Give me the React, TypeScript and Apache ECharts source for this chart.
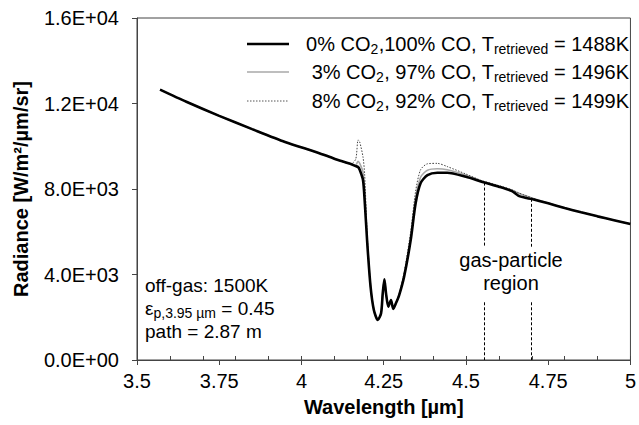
import { useEffect, useRef } from "react";
import * as echarts from "echarts";

// Wavelength grid [µm] shared by the three spectra
const wavelength = [
  3.57, 3.65, 3.75, 3.85, 3.95, 4.05, 4.1, 4.15, 4.165, 4.172, 4.177, 4.187,
  4.192, 4.2, 4.21, 4.22, 4.232, 4.242, 4.247, 4.252, 4.257, 4.264, 4.272,
  4.279, 4.287, 4.297, 4.312, 4.332, 4.347, 4.362, 4.383, 4.413, 4.443, 4.5,
  4.55, 4.6, 4.64, 4.66, 4.68, 4.7, 4.75, 4.8, 4.85, 4.9, 4.95, 5.0,
];

// Radiance [W/m²/µm/sr] for 0% CO2, 100% CO
const radiance0 = [
  12650, 12080, 11420, 10800, 10200, 9700, 9420, 9170, 9070, 9030, 8900, 8420,
  7480, 5460, 3430, 2340, 1870, 2190, 3120, 3780, 3120, 2490, 2810, 2390, 2650,
  3040, 3900, 5610, 7330, 8270, 8650, 8760, 8760, 8570, 8330, 8110, 7900, 7680,
  7590, 7530, 7330, 7110, 6910, 6720, 6540, 6360,
];

// Radiance for 3% CO2, 97% CO
const radiance3 = [
  12650, 12080, 11420, 10800, 10200, 9700, 9420, 9170, 9120, 9300, 9200, 8800,
  7900, 5600, 3460, 2340, 1870, 2190, 3120, 3780, 3120, 2490, 2810, 2390, 2650,
  3060, 3980, 5800, 7600, 8550, 8880, 8950, 8900, 8650, 8360, 8140, 7940, 7800,
  7690, 7580, 7340, 7110, 6910, 6720, 6540, 6360,
];

// Radiance for 8% CO2, 92% CO
const radiance8 = [
  12650, 12080, 11420, 10800, 10200, 9700, 9420, 9170, 9400, 10300, 10200, 9500,
  8700, 5800, 3500, 2340, 1870, 2190, 3120, 3780, 3120, 2490, 2810, 2390, 2650,
  3080, 4100, 6000, 7900, 8900, 9180, 9200, 9050, 8700, 8380, 8160, 7960, 7820,
  7700, 7590, 7340, 7110, 6910, 6720, 6540, 6360,
];

const seriesNames = [
  "0% CO2,100% CO, Tretrieved = 1488K",
  "3% CO2, 97% CO, Tretrieved = 1496K",
  "8% CO2, 92% CO, Tretrieved = 1499K",
];
const legendRich = [
  "0% CO{sub|2},100% CO, T{sub|retrieved} = 1488K",
  "3% CO{sub|2}, 97% CO, T{sub|retrieved} = 1496K",
  "8% CO{sub|2}, 92% CO, T{sub|retrieved} = 1499K",
];

const yTickLabels = ["0.0E+00", "4.0E+03", "8.0E+03", "1.2E+04", "1.6E+04"];

// Gas-particle region boundaries [µm] and the curve value where each marker starts
const regionEdges = [4.557, 4.697];
const regionCurveTop = [8300, 7540];
const regionGap = [5300, 2700];

const FONT = "'Liberation Sans', Arial, Helvetica, sans-serif";
const FS = 20;

export default function App() {
  const ref = useRef<HTMLDivElement>(null);

  useEffect(() => {
    const chart = echarts.init(ref.current!, null, { renderer: "svg" });
    const pairs = (ys: number[]) => wavelength.map((w, i) => [w, ys[i]]);
    const sub = { fontSize: 14, fontFamily: FONT, padding: [9, 0, 0, 0] };

    const regionLines: any[] = [];
    regionEdges.forEach((x, i) => {
      regionLines.push([{ coord: [x, regionCurveTop[i]] }, { coord: [x, regionGap[0]] }]);
      regionLines.push([{ coord: [x, regionGap[1]] }, { coord: [x, 0] }]);
    });

    const legendY = [44, 72, 101];
    const legendStyles = [
      { stroke: "#000", lineWidth: 2.6 },
      { stroke: "#a8a8a8", lineWidth: 1.6 },
      { stroke: "#555", lineWidth: 1, lineDash: [1.5, 1.5] },
    ];

    const graphics: any[] = [];
    legendY.forEach((y, i) => {
      graphics.push({
        type: "line",
        shape: { x1: 247, y1: y, x2: 289, y2: y },
        style: legendStyles[i],
        silent: true,
      });
      graphics.push({
        type: "text",
        x: 629,
        y,
        style: {
          text: legendRich[i],
          fontFamily: FONT,
          fontSize: FS,
          fill: "#000",
          align: "right",
          verticalAlign: "middle",
          lineHeight: 24,
          rich: { sub },
        },
        silent: true,
      });
    });

    const note = (text: string, x: number, y: number, size: number, align = "left") => ({
      type: "text",
      x,
      y,
      silent: true,
      style: {
        text,
        fontFamily: FONT,
        fontSize: size,
        fill: "#000",
        align,
        verticalAlign: "middle",
        lineHeight: 24,
        rich: { sub },
      },
    });

    graphics.push(
      note("off-gas: 1500K", 145, 285, 19),
      note("ε{sub|p,3.95 µm} = 0.45", 145, 308, 19),
      note("path = 2.87 m", 145, 331, 19),
      note("gas-particle", 511, 260, FS, "center"),
      note("region", 511, 283, FS, "center")
    );

    const axisColor = "#444";

    chart.setOption({
      animation: false,
      backgroundColor: "#fff",
      textStyle: { fontFamily: FONT },
      grid: {
        left: 137,
        right: 6,
        top: 18,
        bottom: 65,
        show: true,
        borderColor: axisColor,
        borderWidth: 1,
        backgroundColor: "transparent",
      },
      xAxis: [
        {
          type: "value",
          min: 3.5,
          max: 5,
          interval: 0.25,
          position: "bottom",
          name: "Wavelength [µm]",
          nameLocation: "middle",
          nameGap: 37,
          nameTextStyle: { fontFamily: FONT, fontSize: FS, fontWeight: "bold", color: "#000" },
          axisLine: { show: true, lineStyle: { color: axisColor, width: 1 } },
          axisTick: { show: true, inside: false, length: 5, lineStyle: { color: axisColor } },
          axisLabel: { fontFamily: FONT, fontSize: FS, color: "#000", margin: 11 },
          splitLine: { show: false },
        },
        {
          type: "value",
          min: 3.5,
          max: 5,
          interval: 0.1,
          position: "bottom",
          axisLine: { show: false },
          axisTick: { show: true, inside: true, length: 4, lineStyle: { color: axisColor } },
          axisLabel: { show: false },
          splitLine: { show: false },
        },
      ],
      yAxis: {
        type: "value",
        min: 0,
        max: 16000,
        interval: 4000,
        name: "Radiance [W/m²/µm/sr]",
        nameLocation: "middle",
        nameGap: 106,
        nameTextStyle: { fontFamily: FONT, fontSize: FS, fontWeight: "bold", color: "#000" },
        axisLine: { show: true, lineStyle: { color: axisColor, width: 1 } },
        axisTick: { show: true, inside: false, length: 5, lineStyle: { color: axisColor } },
        axisLabel: {
          fontFamily: FONT,
          fontSize: FS,
          color: "#000",
          margin: 18,
          formatter: (v: number) => yTickLabels[Math.round(v / 4000)] ?? "",
        },
        splitLine: { show: false },
      },
      series: [
        {
          name: seriesNames[1],
          type: "line",
          data: pairs(radiance3),
          showSymbol: false,
          smooth: 0.25,
          lineStyle: { color: "#a8a8a8", width: 1.6 },
          silent: true,
          z: 2,
        },
        {
          name: seriesNames[2],
          type: "line",
          data: pairs(radiance8),
          showSymbol: false,
          smooth: 0.25,
          lineStyle: { color: "#444", width: 1, type: [1.5, 1.5] },
          silent: true,
          z: 3,
        },
        {
          name: seriesNames[0],
          type: "line",
          data: pairs(radiance0),
          showSymbol: false,
          smooth: 0.25,
          lineStyle: { color: "#000", width: 2.6 },
          silent: true,
          z: 4,
          markLine: {
            silent: true,
            symbol: "none",
            label: { show: false },
            lineStyle: { color: "#000", width: 1, type: [3, 2] },
            data: regionLines,
          },
        },
      ],
      graphic: graphics,
    });

    return () => chart.dispose();
  }, []);

  return (
    <div
      ref={ref}
      style={{ position: "fixed", left: 0, top: 0, width: 639, height: 425, background: "#fff" }}
    />
  );
}
